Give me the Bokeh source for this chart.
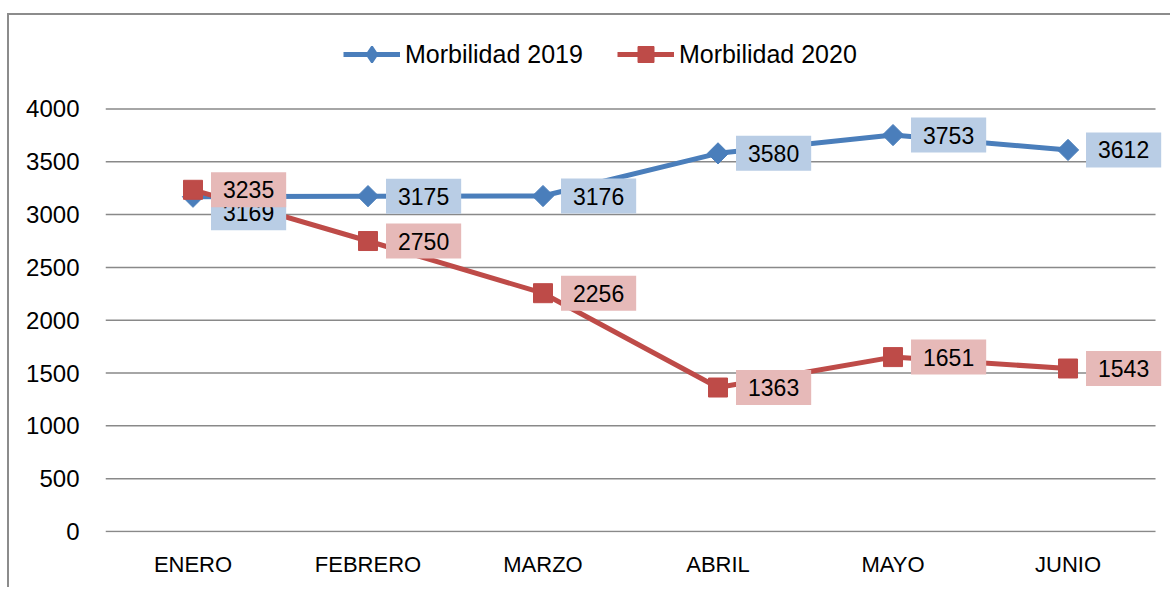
from bokeh.plotting import figure
from bokeh.models import (Range1d, FixedTicker, Legend, LegendItem,
                          ColumnDataSource)
from bokeh.core.properties import value
from bokeh.embed import file_html
from bokeh.resources import INLINE
import math

months = ["ENERO", "FEBRERO", "MARZO", "ABRIL", "MAYO", "JUNIO"]
morb_2019 = [3169, 3175, 3176, 3580, 3753, 3612]
morb_2020 = [3235, 2750, 2256, 1363, 1651, 1543]
y_ticks = [0, 500, 1000, 1500, 2000, 2500, 3000, 3500, 4000]
label_dy_2019 = [16, 0, 0, 0, 0, 0]
label_dy_2020 = [0, 0, 0, 0, 0, 0]

FONT = "Liberation Sans"
BLUE = "#4a7ebb"
RED = "#be4b48"
BLUE_BG = "#b9cde5"
RED_BG = "#e6b9b8"
GRID = "#898989"

idx = list(range(len(months)))
cat_lo = idx[0] - 0.5
cat_hi = idx[-1] + 0.5

p = figure(width=1163, height=574,
           x_range=Range1d(cat_lo, 5.597), y_range=Range1d(-9.5, 4885),
           output_backend="svg", toolbar_location=None,
           min_border_left=96, min_border_right=0, min_border_top=0,
           min_border_bottom=57)
p.margin = (13, 0, 0, 7)
p.styles = {"border-left": "2px solid #8c8c8c", "border-top": "2px solid #8c8c8c"}
p.outline_line_color = None
p.background_fill_color = "white"
p.border_fill_color = "white"

p.xgrid.grid_line_color = None
p.ygrid.grid_line_color = None
p.yaxis.ticker = FixedTicker(ticks=y_ticks)
p.xaxis.ticker = FixedTicker(ticks=idx)
p.xaxis.major_label_overrides = {i: m for i, m in zip(idx, months)}

# horizontal gridlines spanning the category area only
p.segment(x0=[cat_lo] * len(y_ticks), x1=[cat_hi] * len(y_ticks),
          y0=y_ticks, y1=y_ticks, line_color=GRID, line_width=1.5)

for ax in (p.xaxis[0], p.yaxis[0]):
    ax.axis_line_color = None
    ax.major_tick_line_color = None
    ax.minor_tick_line_color = None
    ax.major_label_text_font = FONT
    ax.major_label_text_color = "black"
p.yaxis.major_label_text_font_size = "24px"
p.xaxis.major_label_text_font_size = "22px"
p.yaxis.major_label_standoff = 20
p.xaxis.major_label_standoff = 13

src19 = ColumnDataSource(dict(x=idx, y=morb_2019, t=[str(v) for v in morb_2019], dy=label_dy_2019))
src20 = ColumnDataSource(dict(x=idx, y=morb_2020, t=[str(v) for v in morb_2020], dy=label_dy_2020))

l19 = p.line("x", "y", source=src19, line_color=BLUE, line_width=5)
m19 = p.scatter("x", "y", source=src19, marker="square", angle=math.pi / 4, size=15,
                fill_color=BLUE, line_color=BLUE)
l20 = p.line("x", "y", source=src20, line_color=RED, line_width=5)
m20 = p.scatter("x", "y", source=src20, marker="square", size=19,
                fill_color=RED, line_color=RED)

# legend-only diamond (outside the visible range)
leg19 = p.scatter(x=[0], y=[-5000], marker="diamond", size=24,
                  fill_color=BLUE, line_color=BLUE, line_width=2)

for src, bg in ((src19, BLUE_BG), (src20, RED_BG)):
    p.text("x", "y", text="t", source=src, x_offset=18, y_offset="dy",
           text_align="left", text_baseline="middle",
           text_font=value(FONT), text_font_size="23px", text_color="black",
           background_fill_color=bg, padding=(12, 9))

legend = Legend(items=[LegendItem(label="Morbilidad 2019", renderers=[l19, leg19]),
                       LegendItem(label="Morbilidad 2020", renderers=[l20, m20])],
                orientation="horizontal", location=(238, 458),
                glyph_width=57, glyph_height=40, label_standoff=5, spacing=34,
                padding=0, margin=0, border_line_color=None,
                background_fill_alpha=0,
                label_text_font=FONT, label_text_font_size="25px",
                label_text_color="black")
p.add_layout(legend)

open("out.html", "w").write(file_html(p, INLINE))
